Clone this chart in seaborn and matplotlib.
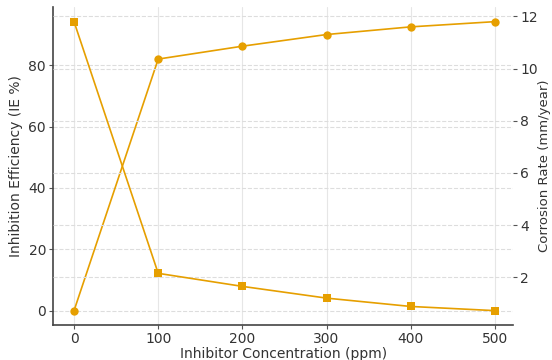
import matplotlib
matplotlib.use("Agg")
import matplotlib.pyplot as plt
import seaborn as sns
import pandas as pd

# values
concentration = [0, 100, 200, 300, 400, 500]
inhibition_eff = [0, 82, 86.2, 90, 92.5, 94.2]
corrosion_rate = [11.8, 2.15, 1.65, 1.2, 0.88, 0.72]

df = pd.DataFrame({'conc': concentration, 'ie': inhibition_eff, 'cr': corrosion_rate})

sns.set_style("ticks")
plt.rcParams['font.family'] = ['DejaVu Sans']

orange = '#E69F00'
text_col = '#333333'

fig = plt.figure(figsize=(5.52, 3.6), dpi=100)
ax = fig.add_axes([0.096, 0.097, 0.834, 0.883])
ax2 = ax.twinx()

sns.lineplot(data=df, x='conc', y='ie', ax=ax, color=orange, marker='o',
             markersize=6, markeredgewidth=0, linewidth=1.2)
sns.lineplot(data=df, x='conc', y='cr', ax=ax2, color=orange, marker='s',
             markersize=6, markeredgewidth=0, linewidth=1.2)

ax.set_xticks(concentration)
ax.set_yticks([0, 20, 40, 60, 80])
ax2.set_yticks([2, 4, 6, 8, 10, 12])

ax.set_xlabel('Inhibitor Concentration (ppm)', fontsize=10, color=text_col, labelpad=1)
ax.set_ylabel('Inhibition Efficiency (IE %)', fontsize=10, color=text_col, labelpad=4)
ax2.set_ylabel('Corrosion Rate (mm/year)', fontsize=9.5, color=text_col, labelpad=0)

ax.xaxis.grid(True, color='#e6e6e6', linewidth=0.8, linestyle='-')
ax.yaxis.grid(True, color='#dddddd', linewidth=0.8, linestyle='--')
ax2.yaxis.grid(True, color='#dddddd', linewidth=0.8, linestyle='--')
ax.set_axisbelow(True)

for a in (ax, ax2):
    a.tick_params(labelsize=10, colors='#555555', labelcolor=text_col, length=3, width=0.8, pad=2)
    a.spines['top'].set_visible(False)
    a.spines['right'].set_visible(False)
ax2.spines['left'].set_visible(False)
ax2.spines['bottom'].set_visible(False)
ax.spines['left'].set_color('#444444')
ax.spines['bottom'].set_color('#444444')
ax.spines['left'].set_linewidth(1.2)
ax.spines['bottom'].set_linewidth(1.2)

ax.set_xlim(-25, 522)

fig.savefig('out.png', dpi=100)
